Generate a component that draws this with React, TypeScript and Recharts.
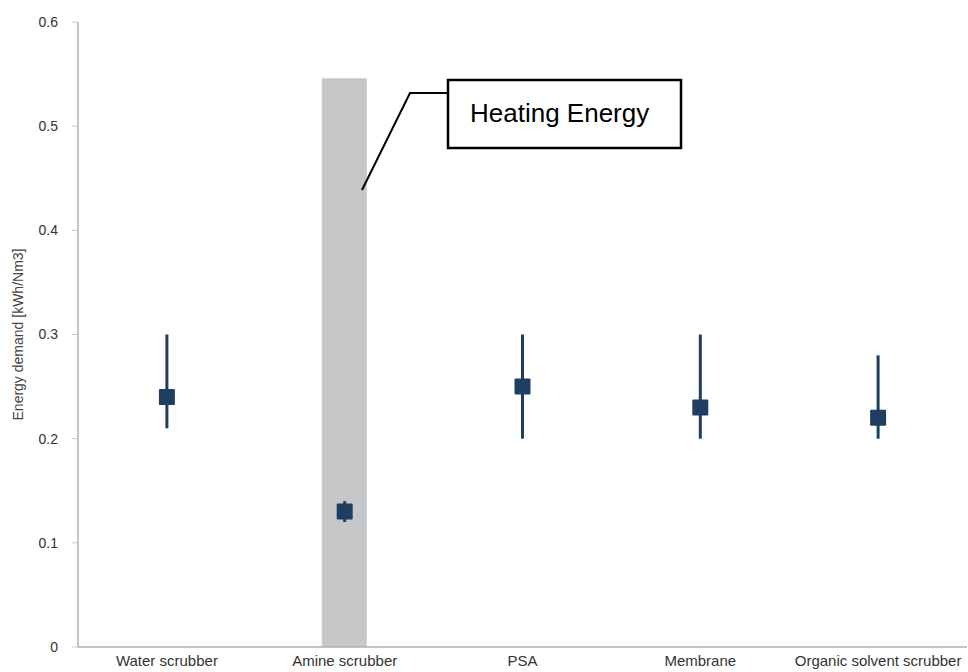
import React from 'react';
import { ComposedChart, Bar, Scatter, ErrorBar, XAxis, YAxis } from 'recharts';

// Biogas upgrading technologies, energy demand (kWh/Nm3)
const technologies = ['Water scrubber', 'Amine scrubber', 'PSA', 'Membrane', 'Organic solvent scrubber'];
const typicalDemand = [0.24, 0.13, 0.25, 0.23, 0.22];
const minDemand = [0.21, 0.12, 0.2, 0.2, 0.2];
const maxDemand = [0.3, 0.14, 0.3, 0.3, 0.28];
const heatingEnergy = [null, 0.546, null, null, null];
const yTicks = [0, 0.1, 0.2, 0.3, 0.4, 0.5, 0.6];

const data = technologies.map((name, i) => ({
  name,
  mean: typicalDemand[i],
  err: [typicalDemand[i] - minDemand[i], maxDemand[i] - typicalDemand[i]],
  heating: heatingEnergy[i],
}));

const NAVY = '#1f3f62';
const FONT = '"Liberation Sans", Arial, Helvetica, sans-serif';

const SquareDot = (props: any) => {
  const { cx, cy } = props;
  if (cx == null || cy == null) return null;
  const s = 16;
  return <rect x={cx - s / 2} y={cy - s / 2} width={s} height={s} fill={NAVY} rx={1} />;
};

export default function App() {
  return (
    <div style={{ position: 'absolute', left: 0, top: 0, width: 968, height: 672, background: '#fff', fontFamily: FONT }}>
      <ComposedChart width={968} height={672} data={data} margin={{ top: 22, right: 1, bottom: 0, left: 0 }}>
        <XAxis
          dataKey="name"
          interval={0}
          tickLine={false}
          axisLine={{ stroke: '#b0b0b0', strokeWidth: 1.5 }}
          tick={{ fontSize: 15, fill: '#333', fontFamily: FONT }}
          height={25}
        />
        <YAxis
          type="number"
          domain={[0, 0.6]}
          ticks={yTicks}
          width={78}
          tickSize={6}
          tickMargin={14}
          tickLine={{ stroke: '#c8c8c8' }}
          axisLine={{ stroke: '#b0b0b0', strokeWidth: 1.5 }}
          tick={{ fontSize: 14, fill: '#333', fontFamily: FONT }}
          label={{
            value: 'Energy demand [kWh/Nm3]',
            angle: -90,
            position: 'insideLeft',
            offset: 18,
            style: { textAnchor: 'middle', fontSize: 14, fill: '#444', fontFamily: FONT },
          }}
        />
        <Bar dataKey="heating" fill="#c6c7c9" barSize={45} isAnimationActive={false} />
        <Scatter dataKey="mean" shape={SquareDot} isAnimationActive={false}>
          <ErrorBar dataKey="err" direction="y" width={0} stroke={NAVY} strokeWidth={3} />
        </Scatter>
      </ComposedChart>
      <svg width={968} height={672} style={{ position: 'absolute', left: 0, top: 0, pointerEvents: 'none' }}>
        <polyline points="362,190 410,93 448,93" fill="none" stroke="#000" strokeWidth={2} />
        <rect x={448} y={80} width={233} height={68} fill="#fff" stroke="#000" strokeWidth={2.5} />
        <text x={470} y={122} fontSize={26} fontFamily={FONT} fill="#000">Heating Energy</text>
      </svg>
    </div>
  );
}
